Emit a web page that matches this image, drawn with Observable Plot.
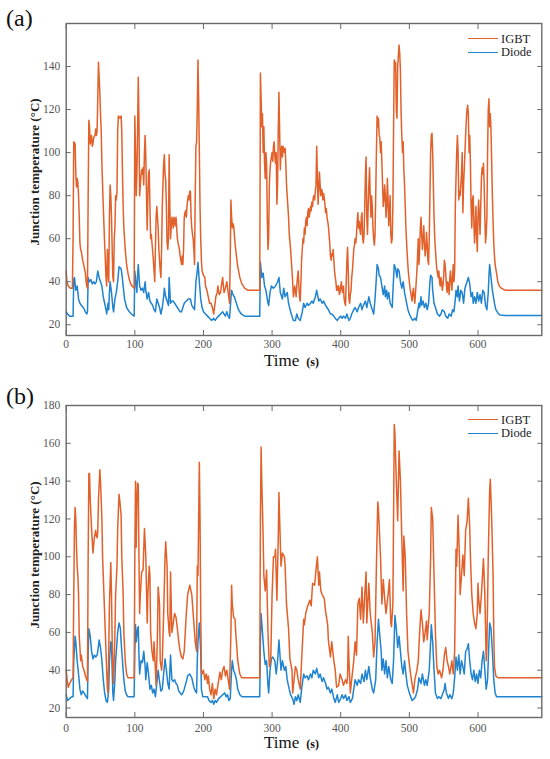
<!DOCTYPE html>
<html>
<head>
<meta charset="utf-8">
<script src="https://cdn.jsdelivr.net/npm/d3@7"></script>
<script src="https://cdn.jsdelivr.net/npm/@observablehq/plot@0.6"></script>
<style>
  html, body { margin: 0; padding: 0; background: #fff; }
  #wrap { position: relative; width: 550px; height: 759px; font-family: "Liberation Serif", "Times New Roman", serif; overflow: hidden; }
  .panel { position: absolute; left: 0; width: 550px; }
  .tag { position: absolute; font-size: 24px; color: #111; line-height: 1; }
  .ylab { position: absolute; font-size: 13px; font-weight: bold; color: #222; white-space: nowrap; transform-origin: center center; }
  .xlab { position: absolute; color: #111; white-space: nowrap; line-height: 1; }
  .xlab .t { font-size: 17px; }
  .xlab .u { font-size: 12px; font-weight: bold; margin-left: 7px; }
  .leg { position: absolute; font-size: 12.5px; color: #222; line-height: 1; }
  .leg div { display: flex; align-items: center; height: 13.5px; }
  .leg span.sw { display: inline-block; width: 30px; height: 0; border-top: 1.6px solid; margin-right: 3px; }
</style>
</head>
<body>
<div id="wrap"></div>
<script>
// ---------- data ----------
const seriesNames = ["IGBT", "Diode"];
const xTicks = [0, 100, 200, 300, 400, 500, 600];
const yTicksA = [20, 40, 60, 80, 100, 120, 140];
const yTicksB = [20, 40, 60, 80, 100, 120, 140, 160, 180];

// Panel (a): [time s, junction temperature °C]
const aIGBT = [[0,45],[1,40],[3,38],[6,37],[9,37],[10,60],[11,105],[13,104],[14,90],[15,84],[16,88],[17,86],[18,80],[19,70],[20,58],[21,55],[22,54],[24,50],[26,47],[28,44],[29,40],[30,38],[31,37],[32,80],[33,115],[34,112],[35,104],[36,107],[37,108],[38,103],[39,104],[40,107],[42,108],[43,111],[44,108],[45,110],[46,125],[47,142],[48,135],[49,128],[50,118],[51,110],[52,95],[54,75],[56,58],[58,42],[59,38],[60,55],[61,45],[62,40],[63,70],[64,85],[65,80],[66,70],[67,55],[68,42],[69,40],[70,60],[71,65],[72,80],[73,78],[74,82],[75,110],[76,117],[78,116],[80,117],[81,110],[82,90],[83,75],[84,65],[86,55],[88,48],[90,44],[92,41],[94,39],[96,38],[99,37],[100,117],[101,100],[102,80],[103,90],[104,110],[105,135],[106,115],[107,80],[108,85],[109,89],[110,92],[111,90],[112,93],[113,85],[114,100],[115,108],[116,98],[117,80],[118,64],[119,80],[120,90],[121,92],[122,75],[123,60],[124,62],[125,58],[127,50],[128,45],[129,40],[130,55],[131,70],[132,75],[133,70],[134,65],[135,55],[136,50],[137,45],[138,42],[139,55],[140,75],[141,85],[142,95],[143,99],[144,90],[145,87],[146,75],[147,58],[148,55],[149,60],[150,99],[151,75],[152,60],[153,65],[154,70],[155,68],[156,65],[157,70],[158,68],[159,66],[160,70],[161,65],[162,60],[163,58],[165,55],[166,52],[167,50],[168,48],[169,52],[170,48],[171,55],[172,70],[173,72],[174,73],[175,70],[176,75],[177,78],[178,80],[179,78],[180,82],[181,82],[182,70],[183,65],[184,62],[185,60],[186,55],[187,48],[188,80],[189,103],[190,105],[191,120],[192,143],[193,125],[194,100],[195,75],[196,60],[197,50],[198,45],[200,43],[202,42],[203,38],[205,36],[207,33],[209,30],[211,30],[213,28],[215,25],[216,28],[217,30],[218,33],[220,35],[221,38],[223,34],[225,35],[226,38],[228,42],[229,38],[230,35],[232,37],[234,40],[236,35],[238,30],[239,50],[240,78],[241,70],[242,65],[243,67],[244,66],[245,62],[246,58],[248,52],[250,47],[253,42],[256,39],[260,37],[265,36],[282,36],[283,137],[284,125],[285,112],[286,118],[287,100],[288,112],[289,95],[290,88],[291,100],[292,95],[293,70],[294,55],[295,60],[296,85],[297,92],[298,96],[299,98],[300,100],[301,96],[302,103],[303,105],[304,98],[305,95],[306,100],[307,76],[308,85],[309,110],[310,128],[311,110],[312,92],[313,100],[314,103],[315,98],[316,103],[318,100],[319,102],[320,95],[321,85],[322,80],[324,70],[325,62],[327,55],[328,50],[329,45],[330,40],[331,33],[332,35],[333,38],[334,36],[335,33],[336,38],[337,42],[338,45],[339,38],[340,33],[341,31],[342,40],[343,50],[344,55],[345,60],[346,58],[347,65],[348,62],[349,68],[350,70],[351,66],[352,72],[353,74],[354,70],[355,72],[356,75],[357,73],[358,77],[359,75],[360,79],[361,80],[362,78],[363,82],[364,85],[365,103],[366,90],[367,76],[368,82],[369,91],[370,85],[371,80],[372,83],[373,82],[374,78],[375,81],[376,79],[377,76],[378,72],[379,74],[380,70],[381,68],[382,66],[383,62],[384,58],[385,52],[386,50],[387,53],[388,52],[389,55],[390,50],[391,45],[392,42],[393,40],[394,36],[395,38],[396,36],[397,38],[398,34],[399,35],[400,38],[401,40],[402,36],[403,35],[404,38],[405,32],[406,30],[407,29],[408,40],[409,50],[410,56],[411,45],[412,32],[413,30],[414,34],[415,36],[416,42],[417,45],[418,50],[419,55],[420,57],[421,60],[422,58],[423,62],[424,68],[425,72],[426,65],[427,68],[428,64],[429,62],[430,70],[431,72],[432,60],[433,58],[434,62],[435,75],[436,90],[437,98],[438,70],[439,62],[440,75],[441,85],[442,93],[443,80],[444,70],[445,80],[446,75],[447,65],[448,60],[449,57],[450,62],[451,80],[452,100],[453,117],[454,112],[455,116],[456,108],[457,107],[458,100],[459,105],[460,95],[461,85],[462,75],[463,78],[464,85],[465,80],[466,70],[467,75],[468,88],[469,78],[470,66],[471,72],[472,80],[473,62],[474,58],[475,60],[476,75],[477,110],[478,143],[479,140],[480,142],[481,120],[482,116],[483,140],[484,145],[485,150],[486,146],[487,138],[488,118],[489,108],[490,100],[491,105],[492,92],[493,85],[494,75],[495,65],[496,58],[497,52],[498,47],[499,43],[500,40],[501,37],[502,35],[503,33],[504,31],[505,35],[506,37],[507,33],[508,30],[509,35],[510,40],[511,45],[512,52],[513,60],[514,48],[515,55],[516,65],[517,70],[518,62],[519,55],[520,60],[521,66],[522,58],[523,52],[524,55],[525,63],[526,58],[527,50],[528,48],[529,60],[530,80],[531,100],[532,108],[533,109],[534,100],[535,85],[536,70],[537,60],[538,55],[539,50],[540,46],[541,44],[542,42],[543,45],[544,40],[545,38],[546,42],[547,40],[548,36],[549,38],[550,42],[551,50],[552,48],[553,44],[554,38],[555,35],[556,40],[557,38],[558,34],[559,42],[560,45],[561,40],[562,36],[563,42],[564,48],[565,40],[566,45],[567,75],[568,88],[569,100],[570,108],[571,100],[572,78],[573,82],[574,80],[575,85],[576,90],[577,100],[578,72],[579,85],[580,92],[581,100],[582,108],[583,115],[584,120],[585,122],[586,118],[587,100],[588,108],[589,95],[590,75],[591,65],[592,78],[593,80],[594,68],[595,58],[596,65],[597,75],[598,62],[599,54],[600,70],[601,78],[602,70],[603,62],[604,75],[605,88],[606,93],[607,90],[608,95],[609,85],[610,70],[611,58],[612,62],[613,70],[614,100],[615,120],[616,125],[617,112],[618,118],[619,110],[620,95],[621,80],[622,68],[623,58],[624,52],[625,48],[627,44],[629,40],[631,38],[634,37],[640,36],[693,36]];

const aDiode = [[0,26],[2,25],[5,24],[10,24],[11,41],[12,42],[14,36],[16,38],[18,32],[20,30],[22,29],[25,28],[28,26],[30,25],[31,26],[32,42],[34,40],[36,41],[38,39],[40,40],[42,39],[44,40],[46,45],[48,42],[50,40],[52,38],[54,33],[56,30],[58,27],[59,25],[61,30],[62,27],[63,35],[64,40],[66,35],[68,28],[69,26],[71,32],[73,35],[75,40],[77,47],[80,46],[81,44],[83,38],[85,32],[88,28],[92,26],[95,25],[99,24],[100,45],[102,38],[103,35],[104,43],[105,48],[107,38],[109,36],[111,37],[113,35],[115,40],[116,36],[118,32],[120,35],[122,31],[124,30],[126,29],[128,27],[130,26],[132,32],[134,30],[136,28],[138,25],[140,28],[142,33],[143,37],[145,33],[147,31],[149,29],[150,42],[152,30],[154,31],[156,31],[158,30],[160,29],[162,28],[164,27],[166,26],[168,26],[170,28],[172,30],[175,31],[178,32],[181,32],[183,29],[185,28],[187,27],[189,40],[191,45],[192,49],[194,40],[196,32],[198,28],[200,26],[203,25],[206,24],[209,23],[212,22],[215,23],[217,22],[219,23],[222,24],[225,25],[228,26],[230,25],[232,24],[234,26],[236,24],[238,23],[240,32],[241,36],[243,34],[245,33],[248,30],[251,27],[255,25],[260,24],[282,24],[283,49],[285,42],[287,44],[289,38],[291,36],[294,30],[295,29],[297,35],[299,38],[302,37],[305,38],[308,40],[310,42],[312,35],[315,32],[317,37],[319,33],[322,35],[324,30],[327,26],[329,24],[331,22],[334,22],[336,25],[338,23],[341,22],[344,26],[346,30],[348,28],[351,30],[353,29],[356,30],[358,31],[360,30],[363,33],[365,36],[368,31],[370,32],[373,30],[375,31],[378,29],[380,28],[382,27],[385,25],[387,25],[390,24],[392,23],[395,22],[397,23],[400,24],[402,23],[404,24],[407,23],[409,25],[412,22],[414,23],[416,25],[419,27],[421,28],[424,26],[426,28],[429,30],[431,27],[433,29],[436,31],[438,28],[441,33],[443,30],[446,27],[448,25],[450,32],[452,42],[453,48],[455,46],[456,43],[458,42],[460,38],[462,34],[464,38],[465,33],[467,36],[468,32],[470,35],[472,30],[475,28],[476,35],[478,48],[480,46],[482,42],[483,46],[485,45],[487,40],[489,37],[491,40],[493,35],[496,30],[498,27],[500,25],[503,23],[505,22],[508,23],[510,22],[512,26],[514,30],[515,28],[517,33],[518,29],[520,31],[522,28],[524,30],[526,27],[528,30],[530,40],[531,43],[533,42],[534,36],[536,30],[539,27],[541,25],[544,24],[546,25],[548,27],[551,26],[553,24],[556,23],[558,25],[561,24],[563,27],[565,26],[567,32],[568,36],[570,33],[571,38],[573,31],[575,36],[577,35],[579,30],[581,37],[582,38],[584,40],[586,42],[588,39],[590,33],[592,35],[593,30],[595,33],[597,30],[599,35],[601,31],[603,34],[605,30],[607,36],[609,35],[611,29],[613,27],[615,35],[616,43],[617,48],[619,42],[621,36],[624,30],[626,27],[629,25.5],[632,24.5],[640,24.3],[693,24.3]];

// Panel (b)
const bIGBT = [[0,40],[2,33],[3,31],[5,33],[8,35],[10,36],[11,80],[12,115],[13,126],[14,120],[15,105],[16,95],[17,90],[18,80],[19,58],[20,52],[21,45],[22,48],[24,42],[26,40],[28,37],[30,35],[31,34],[32,100],[33,144],[34,144],[35,130],[37,115],[39,102],[40,106],[41,110],[43,114],[44,111],[45,110],[46,113],[47,130],[49,146],[50,140],[52,120],[53,100],[55,80],[57,60],[59,40],[60,30],[61,28],[62,50],[63,75],[65,97],[66,80],[67,55],[68,40],[69,33],[71,60],[72,80],[74,95],[75,115],[77,133],[78,130],[80,122],[81,100],[83,80],[84,60],[86,45],[88,38],[90,36],[99,36],[100,100],[101,140],[102,105],[103,130],[104,139],[105,138],[106,100],[107,70],[108,80],[110,92],[112,93],[114,115],[116,100],[118,65],[119,80],[121,95],[122,90],[123,60],[125,50],[127,45],[128,55],[130,40],[131,32],[133,60],[134,84],[136,75],[137,45],[139,40],[140,45],[142,70],[144,100],[145,108],[147,95],[148,70],[150,60],[151,58],[152,92],[154,60],[156,65],[158,70],[160,68],[162,62],[164,55],[166,50],[168,47],[170,46],[172,50],[175,70],[177,80],[180,85],[183,80],[186,65],[188,55],[190,50],[191,95],[192,90],[193,120],[194,150],[195,120],[196,70],[197,40],[198,38],[200,40],[202,35],[204,38],[206,33],[207,37],[209,30],[211,27],[213,33],[215,25],[217,30],[219,27],[221,32],[224,39],[226,35],[228,40],[230,42],[232,37],[234,40],[236,35],[238,30],[240,60],[241,85],[242,75],[244,68],[246,67],[247,60],[250,45],[253,38],[256,36],[282,36],[283,120],[284,158],[285,140],[287,110],[288,90],[290,82],[292,93],[294,60],[296,42],[298,45],[300,80],[302,100],[304,100],[305,104],[307,77],[309,110],[310,134],[311,120],[313,95],[315,102],[318,100],[319,95],[321,75],[324,62],[326,46],[329,40],[330,28],[332,35],[334,42],[336,40],[338,35],[341,30],[343,45],[346,67],[347,64],[349,70],[351,73],[353,75],[355,77],[357,74],[359,86],[362,85],[364,93],[366,100],[368,85],[369,92],[371,82],[373,80],[376,78],[378,71],[381,64],[382,56],[384,50],[385,47],[387,55],[390,45],[392,40],[394,31],[397,32],[399,38],[402,35],[404,32],[407,35],[409,33],[410,37],[411,58],[412,45],[414,28],[416,35],[419,45],[421,55],[423,48],[425,75],[427,78],[429,67],[431,84],[433,65],[435,80],[437,92],[438,65],[441,86],[443,70],[446,60],[448,47],[450,55],[452,95],[454,129],[455,125],[458,100],[460,75],[462,88],[464,78],[466,70],[469,80],[471,88],[473,65],[474,63],[476,75],[477,120],[478,170],[479,165],[481,140],[483,119],[485,156],[487,140],[489,110],[491,82],[492,111],[494,100],[496,70],[498,50],[501,40],[503,35],[506,28],[508,35],[511,40],[513,45],[515,60],[517,72],[519,65],[521,55],[523,60],[525,66],[526,56],[529,70],[531,100],[532,126],[534,120],[536,90],[538,60],[540,42],[542,38],[544,40],[547,36],[549,40],[551,48],[553,52],[555,45],[557,42],[559,38],[562,45],[564,38],[566,50],[568,104],[569,95],[571,122],[573,100],[574,80],[576,90],[578,101],[580,90],[582,114],[584,118],[586,131],[588,115],[589,100],[591,80],[593,70],[595,65],[597,62],[599,70],[600,86],[601,78],[603,70],[605,80],[608,99],[610,80],[612,45],[613,52],[615,100],[617,135],[618,141],[620,120],[622,90],[623,60],[624,42],[626,37],[629,36],[693,36]];

const bDiode = [[0,27],[2,24],[5,25],[8,26],[10,26],[11,45],[13,58],[14,55],[16,45],[18,38],[20,30],[22,27],[24,29],[26,28],[29,26],[31,25],[32,50],[33,62],[35,58],[37,50],[39,46],[41,48],[43,47],[45,48],[46,50],[48,56],[50,52],[52,45],[54,35],[56,28],[58,24],[60,23],[62,30],[63,45],[65,55],[66,54],[67,40],[68,28],[69,24],[71,35],[72,45],[74,55],[75,60],[77,65],[79,62],[80,55],[82,45],[84,35],[86,29],[88,27],[90,26],[99,26],[100,50],[101,64],[102,55],[104,62],[105,63],[106,48],[107,38],[109,45],[111,44],[113,50],[115,42],[116,35],[118,44],[120,38],[122,30],[124,32],[126,28],[128,30],[130,26],[132,33],[134,40],[136,34],[138,29],[140,30],[142,38],[144,46],[146,40],[148,33],[150,30],[152,48],[154,35],[156,34],[158,35],[160,33],[162,32],[164,29],[166,28],[168,27],[170,28],[172,30],[175,34],[177,37],[180,38],[183,36],[186,31],[188,29],[190,28],[191,45],[192,55],[194,65],[196,50],[197,30],[199,26],[206,26],[208,24],[211,23],[213,24],[215,22],[217,24],[219,23],[222,25],[225,26],[228,27],[231,28],[233,26],[235,27],[237,24],[239,25],[241,40],[242,45],[244,40],[246,38],[248,35],[250,30],[253,27],[256,26],[282,26],[283,55],[284,70],[286,60],[288,50],[290,43],[292,45],[294,32],[295,28],[297,40],[299,46],[301,47],[304,45],[306,38],[308,45],[310,56],[313,40],[315,45],[318,40],[320,42],[322,35],[325,30],[327,27],[330,25],[332,22],[334,26],[336,24],[338,27],[341,23],[343,30],[346,38],[348,36],[351,37],[353,35],[356,38],[358,36],[360,40],[363,38],[365,41],[368,36],[370,38],[373,34],[375,36],[378,33],[380,30],[382,31],[385,28],[387,30],[390,25],[392,23],[395,27],[397,23],[400,25],[402,27],[404,25],[407,27],[409,24],[412,26],[414,23],[417,25],[419,30],[421,35],[424,32],[426,35],[429,33],[431,38],[434,34],[436,40],[438,35],[441,42],[443,36],[446,30],[448,28],[451,35],[453,55],[455,67],[457,58],[459,50],[460,40],[462,46],[464,38],[466,45],[468,36],[470,42],[473,35],[475,33],[477,45],[479,69],[481,62],[483,52],[485,58],[487,50],[489,42],[491,38],[493,45],[495,38],[497,32],[500,28],[502,26],[504,24],[507,25],[509,26],[512,30],[514,36],[517,33],[519,38],[522,32],[524,35],[526,32],[529,40],[531,55],[532,64],[534,55],[536,40],[538,28],[541,25],[543,26],[546,25],[548,27],[551,30],[552,33],[554,28],[557,25],[559,27],[562,25],[564,28],[566,36],[568,47],[570,40],[572,48],[574,38],[576,45],[578,42],[580,38],[582,50],[584,51],[586,54],[588,45],[590,38],[592,35],[594,40],[596,34],[598,38],[600,33],[602,40],[604,36],[606,45],[608,50],[610,40],[612,30],[614,35],[616,55],[617,65],[619,62],[621,50],[623,35],[625,28],[627,26],[693,26]];

// ---------- styling ----------
const COLORS = {IGBT: "#e2612b", Diode: "#1f83cf"};
const FRAME = "#6a6a6a";

function chart({igbt, diode, yDomain, yTicks, height, marginTop, marginBottom, xPad}) {
  const tick = {tickFormat: () => "", label: null, stroke: FRAME, strokeWidth: 1};
  return Plot.plot({
    width: 550, height,
    marginLeft: 65.7, marginRight: 8.7, marginTop, marginBottom,
    x: {domain: [0, 693]},
    y: {domain: yDomain},
    style: {fontFamily: "'Liberation Serif', 'Times New Roman', serif", fontSize: "11.5px", color: "#555", background: "transparent", overflow: "visible"},
    marks: [
      Plot.line(diode, {x: d => d[0], y: d => d[1], stroke: COLORS.Diode, strokeWidth: 1.5, strokeLinejoin: "round"}),
      Plot.line(igbt, {x: d => d[0], y: d => d[1], stroke: COLORS.IGBT, strokeWidth: 1.5, strokeLinejoin: "round"}),
      Plot.frame({stroke: FRAME, strokeWidth: 1.4}),
      Plot.axisX({ticks: xTicks, anchor: "bottom", tickSize: 0, tickPadding: xPad, label: null, tickFormat: d => String(d)}),
      Plot.axisY({ticks: yTicks, anchor: "left", tickSize: 0, tickPadding: 6, label: null, tickFormat: d => String(d)}),
      Plot.axisX({ticks: xTicks, anchor: "bottom", tickSize: 5, dy: -5, ...tick}),
      Plot.axisX({ticks: xTicks, anchor: "top", tickSize: 5, dy: 5, ...tick}),
      Plot.axisY({ticks: yTicks, anchor: "left", tickSize: 5, dx: 5, ...tick}),
      Plot.axisY({ticks: yTicks, anchor: "right", tickSize: 5, dx: -5, ...tick})
    ]
  });
}

const wrap = document.getElementById("wrap");

function addPanel({top, tag, plot, tagTop, ylabCenter, xlabTop, legTop}) {
  const p = document.createElement("div");
  p.className = "panel";
  p.style.top = top + "px";
  p.appendChild(plot);
  wrap.appendChild(p);

  const t = document.createElement("div");
  t.className = "tag";
  t.textContent = tag;
  t.style.left = "6px";
  t.style.top = tagTop + "px";
  wrap.appendChild(t);

  const yl = document.createElement("div");
  yl.className = "ylab";
  yl.textContent = "Junction temperature (°C)";
  wrap.appendChild(yl);
  const w = yl.offsetWidth, h = yl.offsetHeight;
  yl.style.left = (34 - w / 2) + "px";
  yl.style.top = (ylabCenter - h / 2) + "px";
  yl.style.transform = "rotate(-90deg)";

  const xl = document.createElement("div");
  xl.className = "xlab";
  xl.innerHTML = '<span class="t">Time</span><span class="u">(s)</span>';
  xl.style.left = "264px";
  xl.style.top = xlabTop + "px";
  wrap.appendChild(xl);

  const lg = document.createElement("div");
  lg.className = "leg";
  lg.style.left = "468px";
  lg.style.top = legTop + "px";
  lg.innerHTML = seriesNames.map(n =>
    `<div><span class="sw" style="border-color:${COLORS[n]}"></span>${n}</div>`).join("");
  wrap.appendChild(lg);
}

addPanel({
  top: 0, tag: "(a)", tagTop: 6, ylabCenter: 172, xlabTop: 352, legTop: 32,
  plot: chart({igbt: aIGBT, diode: aDiode, yDomain: [15, 160], yTicks: yTicksA, height: 370, marginTop: 23, marginBottom: 35, xPad: 4})
});
addPanel({
  top: 370, tag: "(b)", tagTop: 384, ylabCenter: 555, xlabTop: 734, legTop: 413,
  plot: chart({igbt: bIGBT, diode: bDiode, yDomain: [15, 180], yTicks: yTicksB, height: 389, marginTop: 35, marginBottom: 42, xPad: 6})
});
</script>
</body>
</html>
